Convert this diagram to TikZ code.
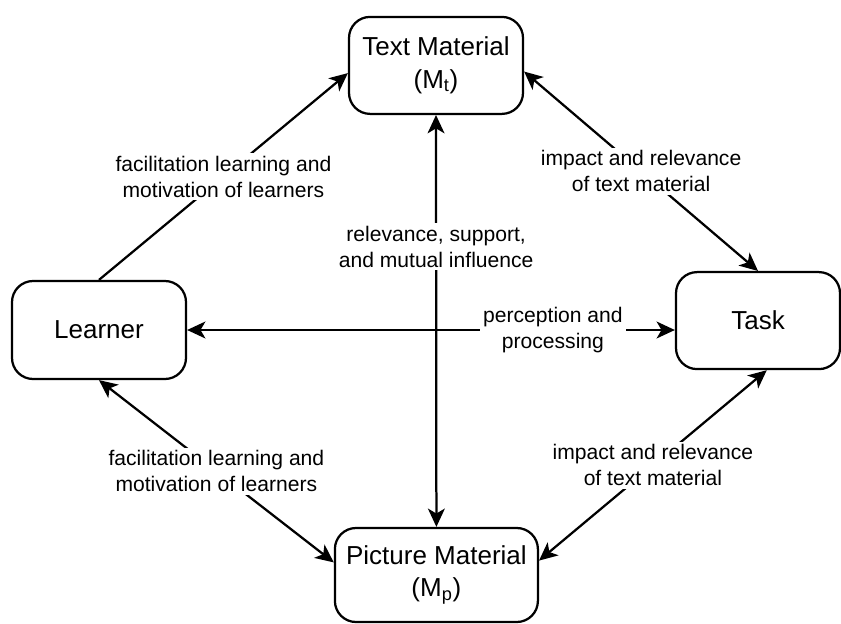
\documentclass[tikz,border=0pt]{standalone}
\usepackage{fontspec}
\setmainfont{Liberation Sans}
\usetikzlibrary{arrows.meta}

\begin{document}
\begin{tikzpicture}[line width=1.6pt,
                    >={Stealth[length=13pt, width=12pt, inset=3.5pt]},
                    box/.style={draw, rounded corners=15pt, align=center,
                                font=\fontsize{18.5}{23}\selectfont},
                    lbl/.style={fill=white, align=center, inner sep=2pt,
                                font=\fontsize{15}{18.5}\selectfont}]
                      \useasboundingbox (0,0) rectangle (21.025,15.575);

                      \node[box, minimum width=4.35cm, minimum height=2.425cm] (text) at (10.9,13.94) {Text Material\\(M\textsubscript{t})};
                      \node[box, minimum width=4.35cm, minimum height=2.45cm] (learner) at (2.475,7.325) {Learner};
                      \node[box, minimum width=4.1cm, minimum height=2.425cm] (task) at (18.95,7.56) {Task};
                      \node[box, minimum width=5.075cm, minimum height=2.35cm] (picture) at (10.91,1.2) {Picture Material\\(M\textsubscript{p})};

                      \draw[->] (learner.north) -- node[lbl] {facilitation learning and\\motivation of learners} (text.185);

                      \foreach \a/\b/\p/\t in {text.-4/task.north/0.5/{impact and relevance\\of text material},
                              text.south/picture.north/0.32/{relevance, support,\\and mutual influence},
                              learner.south/picture.173/0.5/{facilitation learning and\\motivation of learners},
                              task.-80/picture.8/0.5/{impact and relevance\\of text material}} {
                              \draw[<->] (\a) -- node[lbl, pos=\p] {\t} (\b);
                          }

                      \draw[<->] (learner.east) -- node[lbl, pos=0.75] {perception and\\processing} (learner.east -| task.west);
                  \end{tikzpicture}
\end{document}
